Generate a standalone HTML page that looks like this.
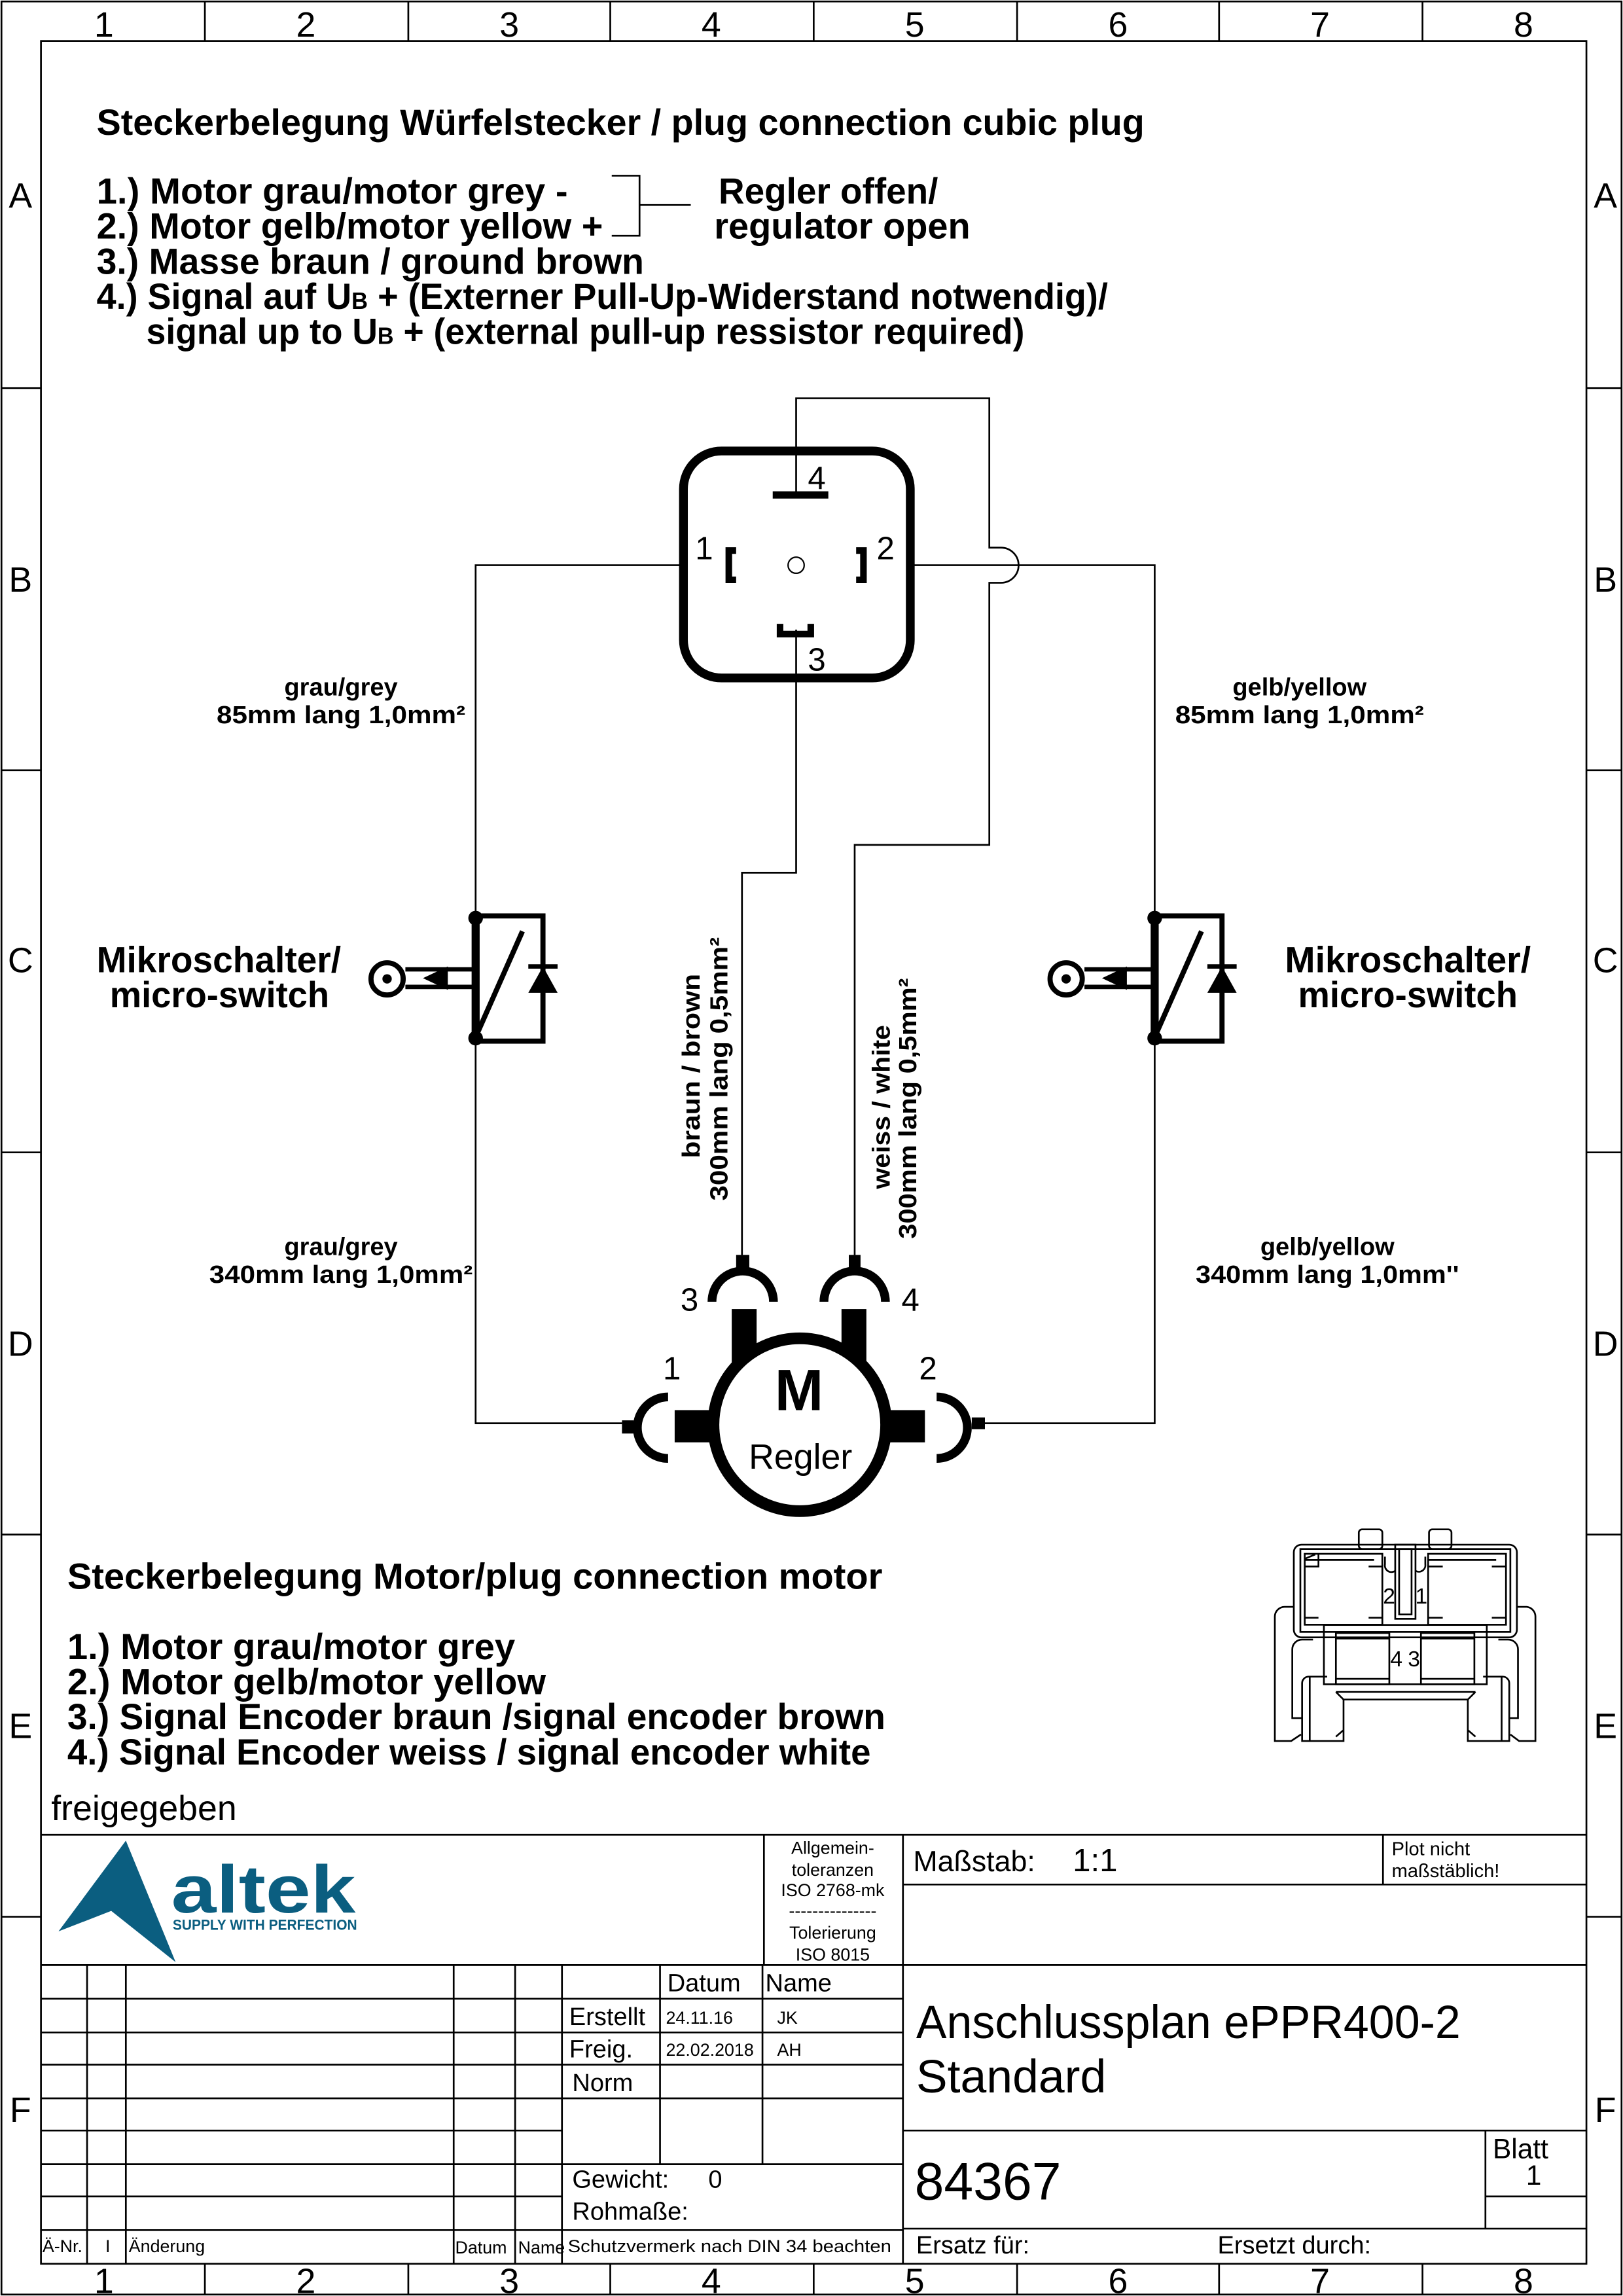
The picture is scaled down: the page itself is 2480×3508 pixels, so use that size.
<!DOCTYPE html>
<html><head><meta charset="utf-8"><style>
html,body{margin:0;padding:0;background:#fff;}
svg{display:block;}
text{font-family:"Liberation Sans",sans-serif;fill:#000;}
.b{font-weight:bold;}
</style></head><body>
<svg width="2480" height="3508" viewBox="0 0 1109 1568" preserveAspectRatio="none" xmlns="http://www.w3.org/2000/svg">
<rect x="0" y="0" width="1109" height="1568" fill="#fff"/>
<g fill="none" stroke="#000" stroke-width="1.2">
<rect x="1" y="1" width="1107" height="1566"/>
<rect x="28" y="28" width="1056" height="1518"/>
<path d="M140 1V28M279 1V28M417 1V28M556 1V28M695 1V28M833 1V28M972 1V28M140 1546V1567M279 1546V1567M417 1546V1567M556 1546V1567M695 1546V1567M833 1546V1567M972 1546V1567"/>
<path d="M1 265H28M1 526H28M1 787H28M1 1048H28M1 1309H28M1084 265H1108M1084 526H1108M1084 787H1108M1084 1048H1108M1084 1309H1108"/>
</g>
<g font-size="24" text-anchor="middle">
<text x="71" y="25">1</text><text x="209" y="25">2</text><text x="348" y="25">3</text><text x="486" y="25">4</text><text x="625" y="25">5</text><text x="764" y="25">6</text><text x="902" y="25">7</text><text x="1041" y="25">8</text>
<text x="71" y="1566">1</text><text x="209" y="1566">2</text><text x="348" y="1566">3</text><text x="486" y="1566">4</text><text x="625" y="1566">5</text><text x="764" y="1566">6</text><text x="902" y="1566">7</text><text x="1041" y="1566">8</text>
<text x="14" y="142">A</text><text x="14" y="404">B</text><text x="14" y="664">C</text><text x="14" y="926">D</text><text x="14" y="1187">E</text><text x="14" y="1449">F</text>
<text x="1097" y="142">A</text><text x="1097" y="404">B</text><text x="1097" y="664">C</text><text x="1097" y="926">D</text><text x="1097" y="1187">E</text><text x="1097" y="1449">F</text>
</g>

<g class="b" font-size="25" font-weight="bold">
<text x="66" y="92" textLength="716" lengthAdjust="spacingAndGlyphs">Steckerbelegung Würfelstecker / plug connection cubic plug</text>
<text x="66" y="139" textLength="322" lengthAdjust="spacingAndGlyphs">1.) Motor grau/motor grey -</text>
<text x="66" y="163" textLength="346" lengthAdjust="spacingAndGlyphs">2.) Motor gelb/motor yellow +</text>
<text x="66" y="187" textLength="374" lengthAdjust="spacingAndGlyphs">3.) Masse braun / ground brown</text>
<text x="66" y="211" textLength="691" lengthAdjust="spacingAndGlyphs">4.) Signal auf U<tspan font-size="16">B</tspan> + (Externer Pull-Up-Widerstand notwendig)/</text>
<text x="100" y="235" textLength="600" lengthAdjust="spacingAndGlyphs">signal up to U<tspan font-size="16">B</tspan> + (external pull-up ressistor required)</text>
<text x="491" y="139" textLength="150" lengthAdjust="spacingAndGlyphs">Regler offen/</text>
<text x="488" y="163" textLength="175" lengthAdjust="spacingAndGlyphs">regulator open</text>
<text x="46" y="1085" textLength="557" lengthAdjust="spacingAndGlyphs">Steckerbelegung Motor/plug connection motor</text>
<text x="46" y="1133" textLength="306" lengthAdjust="spacingAndGlyphs">1.) Motor grau/motor grey</text>
<text x="46" y="1157" textLength="327" lengthAdjust="spacingAndGlyphs">2.) Motor gelb/motor yellow</text>
<text x="46" y="1181" textLength="559" lengthAdjust="spacingAndGlyphs">3.) Signal Encoder braun /signal encoder brown</text>
<text x="46" y="1205" textLength="549" lengthAdjust="spacingAndGlyphs">4.) Signal Encoder weiss / signal encoder white</text>
<text x="66" y="664" textLength="167" lengthAdjust="spacingAndGlyphs">Mikroschalter/</text>
<text x="75" y="688" textLength="150" lengthAdjust="spacingAndGlyphs">micro-switch</text>
<text x="878" y="664" textLength="168" lengthAdjust="spacingAndGlyphs">Mikroschalter/</text>
<text x="887" y="688" textLength="150" lengthAdjust="spacingAndGlyphs">micro-switch</text>
</g>
<path d="M418 120H437V161H418M437 140H472" fill="none" stroke="#000" stroke-width="1.2"/>

<g font-size="17" font-weight="bold" text-anchor="middle">
<text x="233" y="475">grau/grey</text>
<text x="233" y="494" textLength="170" lengthAdjust="spacingAndGlyphs">85mm lang 1,0mm²</text>
<text x="888" y="475">gelb/yellow</text>
<text x="888" y="494" textLength="170" lengthAdjust="spacingAndGlyphs">85mm lang 1,0mm²</text>
<text x="233" y="857">grau/grey</text>
<text x="233" y="876" textLength="180" lengthAdjust="spacingAndGlyphs">340mm lang 1,0mm²</text>
<text x="907" y="857">gelb/yellow</text>
<text x="907" y="876" textLength="180" lengthAdjust="spacingAndGlyphs">340mm lang 1,0mm''</text>
<text transform="translate(478,728) rotate(-90)" textLength="126" lengthAdjust="spacingAndGlyphs">braun / brown</text>
<text transform="translate(497,730) rotate(-90)" textLength="180" lengthAdjust="spacingAndGlyphs">300mm lang 0,5mm²</text>
<text transform="translate(608,756) rotate(-90)" textLength="112" lengthAdjust="spacingAndGlyphs">weiss / white</text>
<text transform="translate(626,757) rotate(-90)" textLength="178" lengthAdjust="spacingAndGlyphs">300mm lang 0,5mm²</text>
</g>

<g fill="none" stroke="#000" stroke-width="1.2">
<path d="M467 386H325V972H425"/>
<path d="M622 386H789V972H673"/>
<path d="M544 338V272H676V374H684A12 12 0 0 1 684 398H676V577H584V857"/>
<path d="M544 430V596H507V857"/>
</g>

<rect x="467" y="308" width="155" height="155" rx="26" fill="none" stroke="#000" stroke-width="6"/>
<circle cx="544" cy="386" r="5.5" fill="none" stroke="#000" stroke-width="1"/>
<path d="M528 338H566" stroke="#000" stroke-width="5"/>
<path d="M503 376H498V396H503" fill="none" stroke="#000" stroke-width="4.5"/>
<path d="M585 376H590V396H585" fill="none" stroke="#000" stroke-width="4.5"/>
<path d="M533 426V433H554V426" fill="none" stroke="#000" stroke-width="4.5"/>
<g font-size="22">
<text x="475" y="382">1</text><text x="599" y="382">2</text><text x="552" y="334">4</text><text x="552" y="458">3</text>
</g>

<g id="ms">
<rect x="325" y="625.5" width="46" height="85.5" fill="none" stroke="#000" stroke-width="3.5"/>
<path d="M325 625V711" stroke="#000" stroke-width="5.5"/>
<circle cx="325" cy="627" r="5"/><circle cx="325" cy="709" r="5"/>
<path d="M326 706L357 636" stroke="#000" stroke-width="3.5"/>
<path d="M361 660H381" stroke="#000" stroke-width="3"/>
<path d="M371 660L361 678H381Z"/>
<path d="M277 662H323M277 674H323" stroke="#000" stroke-width="3"/>
<path d="M289 668L306 660V676Z"/>
<circle cx="264.5" cy="668.5" r="11" fill="none" stroke="#000" stroke-width="3.5"/>
<circle cx="264.5" cy="668.5" r="3.2"/>
</g>
<use href="#ms" transform="translate(464,0)"/>

<g>
<rect x="500" y="894" width="17" height="40"/>
<rect x="575" y="894" width="17" height="40"/>
<rect x="461" y="963" width="24" height="22"/>
<rect x="608" y="963" width="24" height="22"/>
<circle cx="546.5" cy="973" r="59" fill="#fff" stroke="#000" stroke-width="8"/>
<path d="M456.5 954A21 21 0 0 0 456.5 996" fill="none" stroke="#000" stroke-width="6"/>
<path d="M640 954A21 21 0 0 1 640 996" fill="none" stroke="#000" stroke-width="6"/>
<path d="M486.5 889A21 21 0 0 1 528.5 889" fill="none" stroke="#000" stroke-width="6"/>
<path d="M563 889A21 21 0 0 1 605 889" fill="none" stroke="#000" stroke-width="6"/>
<rect x="425" y="970" width="8" height="9"/>
<rect x="664" y="968" width="9" height="8"/>
<rect x="503" y="857" width="9" height="10"/>
<rect x="580" y="857" width="8" height="10"/>
<text x="546" y="963" font-size="40" font-weight="bold" text-anchor="middle">M</text>
<text x="547" y="1003" font-size="24" text-anchor="middle">Regler</text>
<g font-size="22"><text x="465" y="895">3</text><text x="616" y="895">4</text><text x="453" y="942">1</text><text x="628" y="942">2</text></g>
</g>

<g transform="translate(849.5,1037) scale(0.149)" fill="none" stroke="#000" stroke-width="8">
<rect x="232" y="120" width="1023" height="425" rx="35"/>
<rect x="262" y="140" width="963" height="380"/>
<rect x="530" y="50" width="108" height="90" rx="15"/>
<rect x="852" y="50" width="103" height="90" rx="15"/>
<rect x="282" y="162" width="356" height="325"/>
<rect x="848" y="162" width="357" height="325"/>
<path d="M282 190H600M282 220H345V162M575 220H638M345 455H282M575 455H638M282 185L330 165"/>
<path d="M848 220H915M1140 220H1205M848 455H915M1140 455H1205M1160 190H848"/>
<rect x="697" y="120" width="93" height="340"/>
<rect x="715" y="140" width="57" height="300"/>
<path d="M650 175V210A30 30 0 0 0 697 240M835 175V210A30 30 0 0 1 790 240"/>
<rect x="370" y="488" width="747" height="272"/>
<rect x="425" y="525" width="245" height="235"/>
<rect x="815" y="525" width="245" height="235"/>
<path d="M425 550H670M815 550H1060M425 735H670M815 735H1060"/>
<path d="M232 405H190A45 45 0 0 0 145 450V1020H220L265 990"/>
<path d="M1255 405H1300A45 45 0 0 1 1340 450V1020H1265L1225 990"/>
<path d="M320 555H270A45 45 0 0 0 225 600V915H270"/>
<path d="M1170 555H1215A45 45 0 0 1 1260 600V915H1220"/>
<path d="M385 725H300A30 30 0 0 0 270 755V1020H460V830H1030V1020H1220V755A30 30 0 0 0 1190 725H1100"/>
<path d="M305 725V1020M1185 725V1020M425 795H1065M425 795L460 830M1065 795L1030 830M460 970L425 1000M1030 970L1065 1000"/>
</g>
<g font-size="15">
<text x="945" y="1095">2</text><text x="967" y="1095">1</text>
<text x="950" y="1138">4</text><text x="962" y="1138">3</text>
</g>

<text x="35" y="1243" font-size="24">freigegeben</text>

<g fill="none" stroke="#000" stroke-width="1.2">
<path d="M28 1253H1084M28 1342H1084M522 1253V1342M617 1253V1546M617 1287H1084M945 1253V1287"/>
<path d="M617 1455H1084M617 1522H1084M1015 1455V1522M1015 1500H1084"/>
<path d="M28 1365H617M28 1388H617M28 1410H617M28 1433H617M28 1455H384M28 1478H617M28 1500H384M28 1523H617"/>
<path d="M59.5 1342V1546M86 1342V1546M310 1342V1546M352 1342V1546M384 1342V1546M451 1342V1478M521 1342V1478"/>
</g>
<polygon points="86,1257 40,1319 76,1305 120,1340" fill="#0b5e80"/>
<text x="117" y="1306" font-size="46" font-weight="bold" style="fill:#0b5e80" textLength="126" lengthAdjust="spacingAndGlyphs">altek</text>
<text x="118" y="1318" font-size="10" font-weight="bold" style="fill:#0b5e80" textLength="126" lengthAdjust="spacingAndGlyphs">SUPPLY WITH PERFECTION</text>
<g font-size="12" text-anchor="middle">
<text x="569" y="1266">Allgemein-</text><text x="569" y="1281">toleranzen</text><text x="569" y="1295">ISO 2768-mk</text><text x="569" y="1309">---------------</text><text x="569" y="1324">Tolerierung</text><text x="569" y="1339">ISO 8015</text>
</g>
<g font-size="17">
<text x="456" y="1360">Datum</text><text x="523" y="1360">Name</text>
<text x="389" y="1383">Erstellt</text><text x="389" y="1405">Freig.</text><text x="391" y="1428">Norm</text>
<text x="391" y="1494">Gewicht:</text><text x="484" y="1494">0</text><text x="391" y="1516">Rohmaße:</text>
<text x="626" y="1539">Ersatz für:</text><text x="832" y="1539">Ersetzt durch:</text>
</g>
<g font-size="12">
<text x="455" y="1382">24.11.16</text><text x="531" y="1382">JK</text>
<text x="455" y="1404">22.02.2018</text><text x="531" y="1404">AH</text>
<text x="29" y="1538">Ä-Nr.</text><text x="72" y="1538">I</text><text x="88" y="1538">Änderung</text>
<text x="311" y="1539">Datum</text><text x="354" y="1539">Name</text>
<text x="388" y="1538" textLength="221" lengthAdjust="spacingAndGlyphs">Schutzvermerk nach DIN 34 beachten</text>
</g>
<text x="624" y="1278" font-size="20">Maßstab:</text>
<text x="733" y="1278" font-size="22">1:1</text>
<text x="951" y="1267" font-size="13">Plot nicht</text>
<text x="951" y="1282" font-size="13">maßstäblich!</text>
<text x="626" y="1392" font-size="32" textLength="372" lengthAdjust="spacingAndGlyphs">Anschlussplan ePPR400-2</text>
<text x="626" y="1429" font-size="32">Standard</text>
<text x="625" y="1502" font-size="36">84367</text>
<text x="1020" y="1474" font-size="19">Blatt</text>
<text x="1048" y="1492" font-size="19" text-anchor="middle">1</text>
</svg>
</body></html>
